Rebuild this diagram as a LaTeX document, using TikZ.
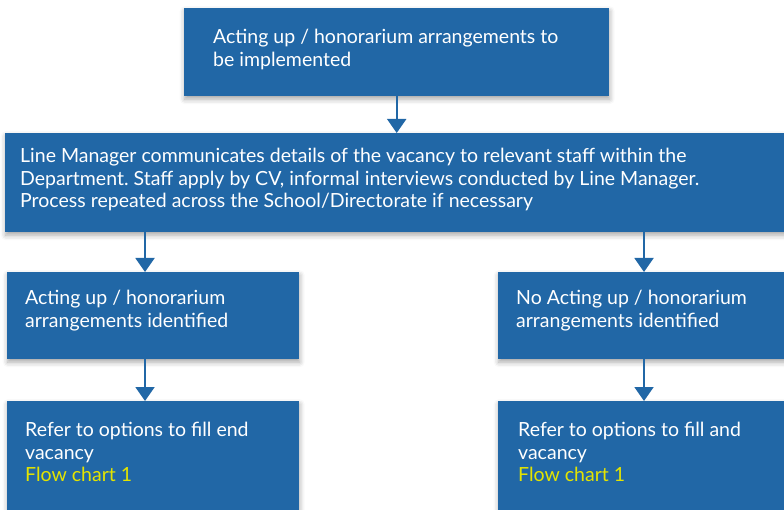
\documentclass[tikz,border=0pt]{standalone}
\usepackage{fontspec}
\setmainfont{Lato}
\frenchspacing
\usetikzlibrary{arrows.meta,shadows.blur,calc}

\definecolor{boxblue}{RGB}{33,103,166}
\definecolor{linkyellow}{RGB}{228,228,0}

\tikzset{
  box/.style={rectangle, fill=boxblue, draw=none, inner sep=0pt, anchor=north west,
    blur shadow={shadow xshift=0.5pt, shadow yshift=-3pt, shadow blur radius=5pt,
      shadow opacity=35}},
  boxtext/.style={text=white, inner sep=0pt, anchor=north west, align=left,
    font=\fontsize{19.5}{22.5}\selectfont},
  flow/.style={draw=boxblue, line width=2pt,
    -{Triangle[width=19pt,length=14pt]}},
}

\begin{document}
\begin{tikzpicture}[x=1pt,y=-1pt]
  \useasboundingbox (0,0) rectangle (784,510);

  % boxes
  \node[box, minimum width=425pt, minimum height=88pt] (start) at (184,8) {};
  \node[box, minimum width=800pt, minimum height=99pt] (notice) at (5,133) {};
  \node[box, minimum width=292pt, minimum height=87pt] (found) at (7,272) {};
  \node[box, minimum width=300pt, minimum height=87pt] (nofound) at (498,272) {};
  \node[box, minimum width=292pt, minimum height=130pt] (referL) at (7,401) {};
  \node[box, minimum width=300pt, minimum height=130pt] (referR) at (498,401) {};

  % texts
  \node[boxtext] (tStart) at (213,29.4)
    {Acting up / honorarium arrangements to\\be implemented};
  \node[boxtext] (tNotice) at (20,148.4)
    {Line Manager communicates details of the vacancy to relevant staff within the\\
     Department. Staff apply by CV, informal interviews conducted by Line Manager.\\
     Process repeated across the School/Directorate if necessary};
  \node[boxtext] (tFound) at (25,290.4)
    {Acting up / honorarium\\arrangements identified};
  \node[boxtext] (tNofound) at (516,290.4)
    {No Acting up / honorarium\\arrangements identified};
  \node[boxtext] (tReferL) at (25,422.4)
    {Refer to options to fill end\\vacancy\\\textcolor{linkyellow}{Flow chart 1}};
  \node[boxtext] (tReferR) at (518,422.4)
    {Refer to options to fill and\\vacancy\\\textcolor{linkyellow}{Flow chart 1}};

  % connector columns
  \coordinate (colL) at (145,0);
  \coordinate (colR) at (644,0);

  % connectors
  \draw[flow] (start.south) -- (start.south |- notice.north);
  \draw[flow] (notice.south -| colL) -- (found.north -| colL);
  \draw[flow] (notice.south -| colR) -- (nofound.north -| colR);
  \draw[flow] (found.south -| colL) -- (referL.north -| colL);
  \draw[flow] (nofound.south -| colR) -- (referR.north -| colR);
\end{tikzpicture}
\end{document}
